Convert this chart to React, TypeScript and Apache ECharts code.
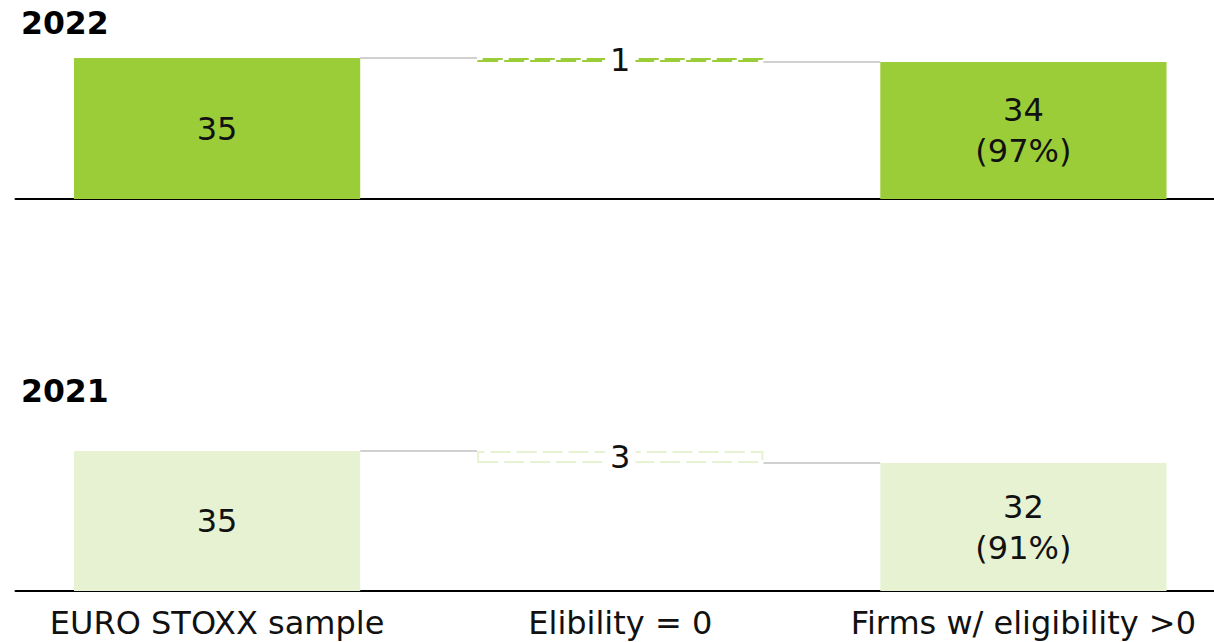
import React, { useEffect, useRef } from "react";
import * as echarts from "echarts";

// Waterfall: sample size -> firms dropped (eligibility = 0) -> remaining firms
const categories = ["EURO STOXX sample", "Elibility = 0", "Firms w/ eligibility >0"];
const years = ["2022", "2021"];
const sampleSize = [35, 35];
const zeroEligibility = [1, 3];
const positiveEligibility = [34, 32];

const barColors = ["#9ACD38", "#E6F2D2"];
const connectorColor = "#D0D0D0";
const textColor = "#111111";
const font = "DejaVu Sans, Verdana, sans-serif";

const panelTops = [58, 451];
const panelHeights = [141, 140];
const titleTops = [2, 370];

export default function App() {
  const ref = useRef<HTMLDivElement>(null);

  useEffect(() => {
    if (!ref.current) return;
    const chart = echarts.init(ref.current, null, { renderer: "svg" });

    const grids: any[] = [];
    const xAxes: any[] = [];
    const yAxes: any[] = [];
    const series: any[] = [];
    const titles: any[] = [];

    years.forEach((year, i) => {
      const total = sampleSize[i];
      const drop = zeroEligibility[i];
      const remain = positiveEligibility[i];
      const color = barColors[i];

      titles.push({
        text: year,
        left: 16,
        top: titleTops[i],
        textStyle: { fontFamily: font, fontSize: 31.5, fontWeight: "bold", color: "#000" },
      });

      grids.push({ left: 15.5, right: 0, top: panelTops[i], height: panelHeights[i] });

      xAxes.push({
        type: "category",
        gridIndex: i,
        data: categories,
        axisLine: { show: true, lineStyle: { color: "#000", width: 2 } },
        axisTick: { show: false },
        axisLabel: {
          show: i === 1,
          interval: 0,
          margin: 16,
          fontFamily: font,
          fontSize: 32,
          color: textColor,
        },
      });

      yAxes.push({ type: "value", gridIndex: i, min: 0, max: total, show: false });

      // invisible offset under the floating bar
      series.push({
        type: "bar",
        xAxisIndex: i,
        yAxisIndex: i,
        stack: "wf" + i,
        barWidth: "71%",
        silent: true,
        itemStyle: { color: "transparent" },
        data: [0, remain, 0],
      });

      series.push({
        type: "bar",
        xAxisIndex: i,
        yAxisIndex: i,
        stack: "wf" + i,
        barWidth: "71%",
        data: [
          {
            value: total,
            itemStyle: { color },
            label: { show: true, position: "inside", formatter: String(total) },
          },
          {
            value: drop,
            itemStyle: {
              color: "#fff",
              borderColor: color,
              borderWidth: 2,
              borderType: [20, 6],
            },
            label: {
              show: true,
              position: "inside",
              formatter: String(drop),
              backgroundColor: "#fff",
              padding: [0, 5],
            },
          },
          {
            value: remain,
            itemStyle: { color },
            label: {
              show: true,
              position: "inside",
              lineHeight: 41,
              formatter: `${remain}\n(${Math.round((remain / total) * 100)}%)`,
            },
          },
        ],
        label: { fontFamily: font, fontSize: 32, color: textColor },
      });

      // grey connectors between neighbouring bars
      series.push({
        type: "custom",
        xAxisIndex: i,
        yAxisIndex: i,
        silent: true,
        z: 1,
        data: [
          [0, total],
          [1, remain],
        ],
        renderItem: (params: any, api: any) => {
          const p = api.coord([api.value(0), api.value(1)]);
          const band = api.size([1, 0])[0];
          const half = (band * 0.71) / 2;
          return {
            type: "line",
            shape: { x1: p[0] + half, y1: p[1], x2: p[0] + band - half, y2: p[1] },
            style: { stroke: connectorColor, lineWidth: 2 },
          };
        },
      });
    });

    chart.setOption({
      animation: false,
      backgroundColor: "#fff",
      title: titles,
      grid: grids,
      xAxis: xAxes,
      yAxis: yAxes,
      series,
    });

    return () => chart.dispose();
  }, []);

  // the plot runs slightly past the right edge of the window
  return (
    <div
      ref={ref}
      style={{ position: "fixed", left: 0, top: 0, width: 1225, height: 642 }}
    />
  );
}
